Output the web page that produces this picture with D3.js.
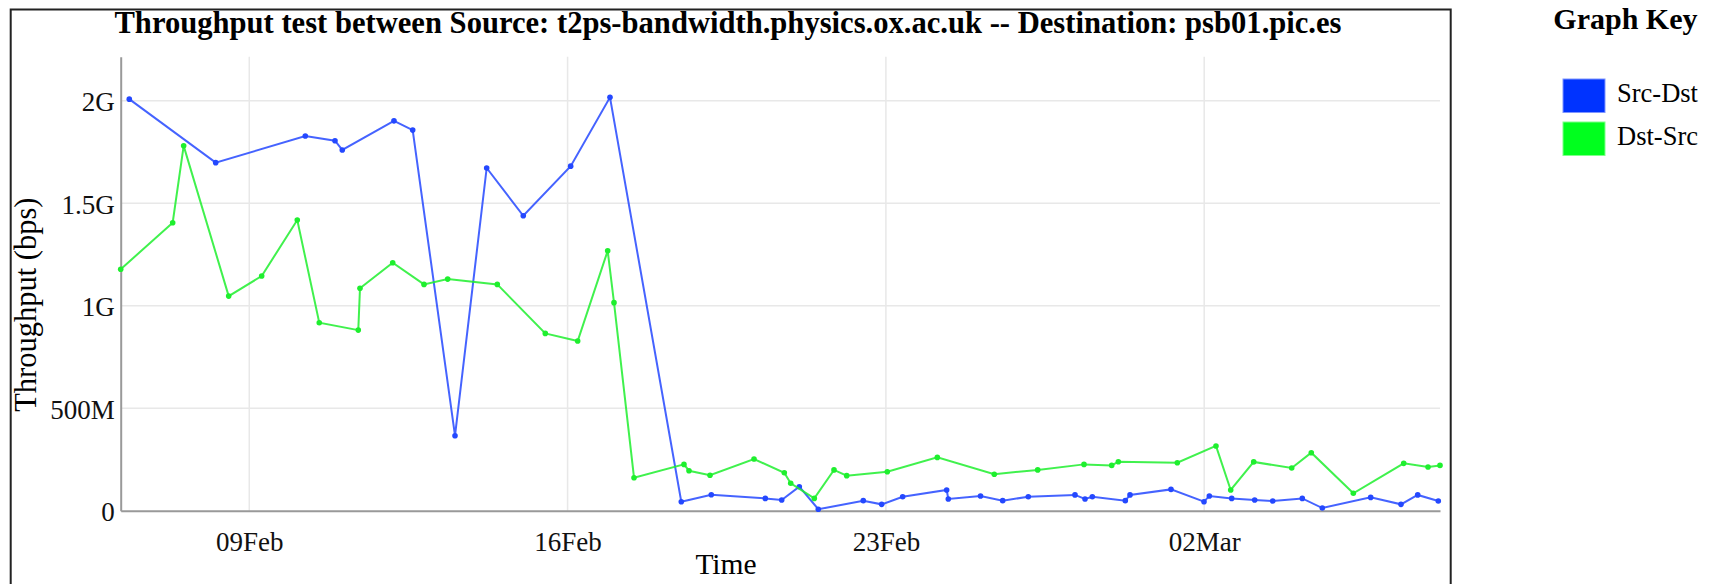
<!DOCTYPE html>
<html>
<head>
<meta charset="utf-8">
<script src="https://cdn.jsdelivr.net/npm/d3@7"></script>
<style>
  body { margin: 0; background: #fff; }
  svg { display: block; font-family: "Liberation Serif", "Times New Roman", serif; }
</style>
</head>
<body>
<div id="chart"></div>
<script>
// Src-Dst throughput (blue)
const srcDstTimes = [
  "2014-02-06 08:40", "2014-02-08 06:16", "2014-02-10 05:34", "2014-02-10 21:14", "2014-02-11 01:05",
  "2014-02-12 04:22", "2014-02-12 14:15", "2014-02-13 12:35", "2014-02-14 05:18", "2014-02-15 00:37",
  "2014-02-16 01:38", "2014-02-16 22:23", "2014-02-18 12:01", "2014-02-19 03:51", "2014-02-20 08:21",
  "2014-02-20 17:01", "2014-02-21 02:18", "2014-02-21 12:20", "2014-02-22 12:04", "2014-02-22 21:47",
  "2014-02-23 08:52", "2014-02-24 08:05", "2014-02-24 08:57", "2014-02-25 01:57", "2014-02-25 13:39",
  "2014-02-26 03:10", "2014-02-27 03:49", "2014-02-27 09:06", "2014-02-27 12:58", "2014-02-28 06:22",
  "2014-02-28 08:51", "2014-03-01 06:29", "2014-03-01 23:54", "2014-03-02 02:43", "2014-03-02 14:31",
  "2014-03-03 02:39", "2014-03-03 12:10", "2014-03-04 03:47", "2014-03-04 14:21", "2014-03-05 15:53",
  "2014-03-06 07:53", "2014-03-06 16:42", "2014-03-07 03:34"
];
const srcDstValues = [
  2.008e9, 1.698e9, 1.828e9, 1.805e9, 1.760e9,
  1.902e9, 1.857e9, 0.366e9, 1.672e9, 1.439e9,
  1.681e9, 2.017e9, 0.044e9, 0.078e9, 0.060e9,
  0.052e9, 0.117e9, 0.007e9, 0.049e9, 0.031e9,
  0.068e9, 0.101e9, 0.057e9, 0.072e9, 0.049e9,
  0.068e9, 0.077e9, 0.057e9, 0.068e9, 0.049e9,
  0.077e9, 0.104e9, 0.044e9, 0.072e9, 0.060e9,
  0.052e9, 0.047e9, 0.060e9, 0.013e9, 0.065e9,
  0.031e9, 0.077e9, 0.047e9
];

// Dst-Src throughput (green)
const dstSrcTimes = [
  "2014-02-06 04:08", "2014-02-07 07:34", "2014-02-07 13:22", "2014-02-08 13:08", "2014-02-09 06:33",
  "2014-02-10 01:20", "2014-02-10 12:56", "2014-02-11 09:32", "2014-02-11 10:26", "2014-02-12 03:42",
  "2014-02-12 20:13", "2014-02-13 08:43", "2014-02-14 10:54", "2014-02-15 12:14", "2014-02-16 05:20",
  "2014-02-16 21:10", "2014-02-17 00:30", "2014-02-17 11:04", "2014-02-18 13:26", "2014-02-18 16:05",
  "2014-02-19 03:10", "2014-02-20 02:24", "2014-02-20 18:23", "2014-02-20 21:46", "2014-02-21 10:13",
  "2014-02-21 20:37", "2014-02-22 03:19", "2014-02-23 00:45", "2014-02-24 03:09", "2014-02-25 09:13",
  "2014-02-26 08:08", "2014-02-27 08:34", "2014-02-27 23:11", "2014-02-28 02:41", "2014-03-01 09:49",
  "2014-03-02 06:14", "2014-03-02 14:00", "2014-03-03 02:08", "2014-03-03 22:12", "2014-03-04 08:32",
  "2014-03-05 06:43", "2014-03-06 09:19", "2014-03-06 22:09", "2014-03-07 04:28"
];
const dstSrcValues = [
  1.178e9, 1.405e9, 1.780e9, 1.047e9, 1.145e9,
  1.418e9, 0.917e9, 0.881e9, 1.085e9, 1.210e9,
  1.104e9, 1.130e9, 1.104e9, 0.865e9, 0.828e9,
  1.268e9, 1.015e9, 0.161e9, 0.226e9, 0.195e9,
  0.173e9, 0.252e9, 0.185e9, 0.134e9, 0.060e9,
  0.199e9, 0.171e9, 0.190e9, 0.260e9, 0.178e9,
  0.199e9, 0.226e9, 0.221e9, 0.239e9, 0.234e9,
  0.316e9, 0.101e9, 0.238e9, 0.208e9, 0.283e9,
  0.085e9, 0.231e9, 0.213e9, 0.221e9
];

const xTickDates = ["2014-02-09", "2014-02-16", "2014-02-23", "2014-03-02"];
const xTickLabels = ["09Feb", "16Feb", "23Feb", "02Mar"];
const yTickValues = [0, 5e8, 1e9, 1.5e9, 2e9];
const yTickLabels = ["0", "500M", "1G", "1.5G", "2G"];
const seriesNames = ["Src-Dst", "Dst-Src"];
const seriesColors = ["#0033ff", "#00ff1e"];
const lineColors = ["#2448ff", "#1eef2e"];

const chartTitle = "Throughput test between Source: t2ps-bandwidth.physics.ox.ac.uk -- Destination: psb01.pic.es";

const width = 1713;
const height = 584;
const margin = { top: 56.7, left: 120.7, right: 1440, bottom: 510.7 };

const parseTime = d3.timeParse("%Y-%m-%d %H:%M");
const parseDay = d3.timeParse("%Y-%m-%d");

const series = [
  srcDstTimes.map((t, i) => ({ date: parseTime(t), value: srcDstValues[i] })),
  dstSrcTimes.map((t, i) => ({ date: parseTime(t), value: dstSrcValues[i] }))
];

const svg = d3.select('#chart')
  .append('svg')
  .attr('width', width)
  .attr('height', height);

// outer frame
svg.append('rect')
  .attr('x', 10.7)
  .attr('y', 9.5)
  .attr('width', 1440)
  .attr('height', 600)
  .attr('fill', 'none')
  .attr('stroke', '#222')
  .attr('stroke-width', 2);

const x = d3.scaleTime()
  .domain(d3.extent(series.flat(), d => d.date))
  .range([margin.left, margin.right]);

const y = d3.scaleLinear()
  .domain([0, 2.215e9])
  .range([margin.bottom, margin.top]);

// gridlines
svg.append('g')
  .selectAll('line')
  .data(xTickDates.map(parseDay))
  .enter()
  .append('line')
  .attr('x1', d => x(d))
  .attr('x2', d => x(d))
  .attr('y1', margin.top)
  .attr('y2', margin.bottom)
  .attr('stroke', '#e8e8e8')
  .attr('stroke-width', 1.5);

svg.append('g')
  .selectAll('line')
  .data(yTickValues.slice(1))
  .enter()
  .append('line')
  .attr('x1', margin.left)
  .attr('x2', margin.right)
  .attr('y1', d => y(d))
  .attr('y2', d => y(d))
  .attr('stroke', '#e8e8e8')
  .attr('stroke-width', 1.5);

// axes
const xAxis = svg.append('g')
  .attr('transform', `translate(0,${margin.bottom})`)
  .call(d3.axisBottom(x)
    .tickValues(xTickDates.map(parseDay))
    .tickFormat((d, i) => xTickLabels[i])
    .tickSize(0)
    .tickPadding(21));
xAxis.select('.domain').attr('stroke', '#999').attr('stroke-width', 2);
xAxis.selectAll('text')
  .style('font-family', '"Liberation Serif", serif')
  .style('font-size', '27px')
  .attr('fill', '#111');

const yAxis = svg.append('g')
  .attr('transform', `translate(${margin.left},0)`)
  .call(d3.axisLeft(y)
    .tickValues(yTickValues)
    .tickFormat((d, i) => yTickLabels[i])
    .tickSize(0)
    .tickPadding(6));
yAxis.select('.domain').attr('stroke', '#999').attr('stroke-width', 2);
yAxis.selectAll('text')
  .style('font-family', '"Liberation Serif", serif')
  .style('font-size', '27px')
  .attr('dy', '0.37em')
  .attr('fill', '#111');

// lines and points
const line = d3.line()
  .x(d => x(d.date))
  .y(d => y(d.value));

series.forEach((s, i) => {
  svg.append('path')
    .datum(s)
    .attr('d', line)
    .attr('fill', 'none')
    .attr('stroke', lineColors[i])
    .attr('stroke-width', 2)
    .attr('stroke-opacity', 0.85);

  svg.append('g')
    .selectAll('circle')
    .data(s)
    .enter()
    .append('circle')
    .attr('cx', d => x(d.date))
    .attr('cy', d => y(d.value))
    .attr('r', 2.8)
    .attr('fill', lineColors[i]);
});

// titles
svg.append('text')
  .attr('x', 728)
  .attr('y', 33.3)
  .attr('text-anchor', 'middle')
  .style('font-size', '30.6px')
  .style('font-weight', 'bold')
  .text(chartTitle);

svg.append('text')
  .attr('x', 726)
  .attr('y', 574)
  .attr('text-anchor', 'middle')
  .style('font-size', '29.5px')
  .text('Time');

svg.append('text')
  .attr('transform', 'translate(36,304.7) rotate(-90)')
  .attr('text-anchor', 'middle')
  .style('font-size', '30.5px')
  .text('Throughput (bps)');

// legend
svg.append('text')
  .attr('x', 1553.3)
  .attr('y', 29.3)
  .style('font-size', '30px')
  .style('font-weight', 'bold')
  .text('Graph Key');

const legend = svg.append('g')
  .selectAll('g')
  .data(seriesNames)
  .enter()
  .append('g')
  .attr('transform', (d, i) => `translate(1563,${79 + i * 43})`);

legend.append('rect')
  .attr('width', 42)
  .attr('height', 33.5)
  .attr('fill', (d, i) => seriesColors[i])
  .attr('stroke', (d, i) => i === 0 ? '#7f95ff' : '#7fff8a')
  .attr('stroke-width', 1);

legend.append('text')
  .attr('x', 54)
  .attr('y', 22.7)
  .style('font-size', '26.5px')
  .text(d => d);
</script>
</body>
</html>
